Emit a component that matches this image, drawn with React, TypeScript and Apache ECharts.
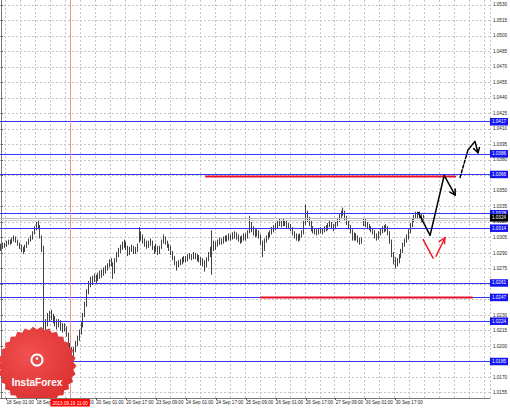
import React, { useEffect, useRef } from "react";
import * as echarts from "echarts";

// ---- OHLC (USD/CAD, H1), one value per hourly bar from 17 Sep 2013 22:00 ----
const opens = [
1.0294,1.0296,1.0298,1.0297,1.0300,1.0301,1.0300,1.0303,1.0304,1.0302,
1.0299,1.0297,1.0294,1.0293,1.0296,1.0299,1.0302,1.0304,1.0309,1.0313,
1.0317,1.0316,1.0306,1.0294,1.0212,1.0222,1.0227,1.0231,1.0228,1.0226,
1.0224,1.0220,1.0223,1.0219,1.0217,1.0218,1.0212,1.0202,1.0195,1.0193,
1.0196,1.0202,1.0207,1.0213,1.0220,1.0230,1.0240,1.0252,1.0260,1.0262,
1.0265,1.0266,1.0264,1.0268,1.0269,1.0271,1.0272,1.0275,1.0277,1.0281,
1.0280,1.0272,1.0283,1.0288,1.0292,1.0295,1.0298,1.0300,1.0296,1.0290,
1.0293,1.0295,1.0292,1.0293,1.0302,1.0309,1.0306,1.0302,1.0300,1.0297,
1.0299,1.0301,1.0296,1.0293,1.0296,1.0291,1.0295,1.0301,1.0304,1.0301,
1.0298,1.0296,1.0291,1.0286,1.0281,1.0278,1.0280,1.0282,1.0283,1.0285,
1.0284,1.0286,1.0287,1.0286,1.0288,1.0287,1.0285,1.0284,1.0282,1.0281,
1.0278,1.0283,1.0288,1.0291,1.0301,1.0296,1.0298,1.0300,1.0302,1.0301,
1.0303,1.0305,1.0304,1.0306,1.0305,1.0307,1.0308,1.0306,1.0304,1.0302,
1.0304,1.0306,1.0305,1.0310,1.0317,1.0314,1.0310,1.0309,1.0310,1.0307,
1.0301,1.0294,1.0302,1.0305,1.0307,1.0310,1.0312,1.0314,1.0316,1.0318,
1.0320,1.0318,1.0320,1.0319,1.0317,1.0316,1.0314,1.0310,1.0307,1.0306,
1.0305,1.0306,1.0309,1.0319,1.0329,1.0323,1.0320,1.0314,1.0312,1.0311,
1.0310,1.0311,1.0312,1.0311,1.0313,1.0314,1.0316,1.0318,1.0316,1.0314,
1.0317,1.0322,1.0326,1.0329,1.0331,1.0325,1.0320,1.0316,1.0313,1.0305,
1.0307,1.0306,1.0303,1.0301,1.0318,1.0321,1.0318,1.0316,1.0315,1.0313,
1.0311,1.0307,1.0305,1.0308,1.0311,1.0313,1.0314,1.0315,1.0310,1.0302,
1.0290,1.0283,1.0280,1.0282,1.0287,1.0292,1.0298,1.0301,1.0305,1.0311,
1.0317,1.0322,1.0325,1.0328,1.0326,1.0327,1.0323];

const closes = [
1.0296,1.0298,1.0297,1.0300,1.0301,1.0300,1.0303,1.0304,1.0302,1.0299,
1.0297,1.0294,1.0293,1.0296,1.0299,1.0302,1.0304,1.0309,1.0313,1.0317,
1.0316,1.0306,1.0294,1.0212,1.0222,1.0227,1.0231,1.0228,1.0226,1.0224,
1.0220,1.0223,1.0219,1.0217,1.0218,1.0212,1.0202,1.0195,1.0193,1.0196,
1.0202,1.0207,1.0213,1.0220,1.0230,1.0240,1.0252,1.0260,1.0262,1.0265,
1.0266,1.0264,1.0268,1.0269,1.0271,1.0272,1.0275,1.0277,1.0281,1.0280,
1.0272,1.0283,1.0288,1.0292,1.0295,1.0298,1.0300,1.0296,1.0290,1.0293,
1.0295,1.0292,1.0293,1.0296,1.0309,1.0306,1.0302,1.0300,1.0297,1.0299,
1.0301,1.0296,1.0293,1.0296,1.0291,1.0295,1.0301,1.0304,1.0301,1.0298,
1.0296,1.0291,1.0286,1.0281,1.0278,1.0280,1.0282,1.0283,1.0285,1.0284,
1.0286,1.0287,1.0286,1.0288,1.0287,1.0285,1.0284,1.0282,1.0281,1.0278,
1.0283,1.0288,1.0291,1.0301,1.0296,1.0298,1.0300,1.0302,1.0301,1.0303,
1.0305,1.0304,1.0306,1.0305,1.0307,1.0308,1.0306,1.0304,1.0302,1.0304,
1.0306,1.0305,1.0310,1.0317,1.0314,1.0310,1.0309,1.0310,1.0307,1.0301,
1.0294,1.0302,1.0305,1.0307,1.0310,1.0312,1.0314,1.0316,1.0318,1.0320,
1.0318,1.0320,1.0319,1.0317,1.0316,1.0314,1.0310,1.0307,1.0306,1.0305,
1.0306,1.0309,1.0319,1.0329,1.0323,1.0320,1.0314,1.0312,1.0311,1.0310,
1.0311,1.0312,1.0311,1.0313,1.0314,1.0316,1.0318,1.0316,1.0314,1.0317,
1.0322,1.0326,1.0329,1.0331,1.0325,1.0320,1.0316,1.0313,1.0305,1.0307,
1.0306,1.0303,1.0301,1.0302,1.0321,1.0318,1.0316,1.0315,1.0313,1.0311,
1.0307,1.0305,1.0308,1.0311,1.0313,1.0314,1.0315,1.0310,1.0302,1.0290,
1.0283,1.0280,1.0282,1.0287,1.0292,1.0298,1.0301,1.0305,1.0311,1.0317,
1.0322,1.0325,1.0328,1.0326,1.0327,1.0323,1.0324];

const highs = [
1.0299,1.0300,1.0300,1.0302,1.0303,1.0303,1.0305,1.0307,1.0306,1.0303,
1.0300,1.0298,1.0296,1.0298,1.0301,1.0304,1.0307,1.0311,1.0316,1.0320,
1.0322,1.0317,1.0307,1.0297,1.0226,1.0232,1.0234,1.0235,1.0231,1.0229,
1.0226,1.0226,1.0225,1.0222,1.0222,1.0219,1.0213,1.0203,1.0199,1.0199,
1.0205,1.0210,1.0216,1.0223,1.0232,1.0243,1.0255,1.0263,1.0267,1.0268,
1.0270,1.0269,1.0271,1.0273,1.0274,1.0276,1.0278,1.0280,1.0284,1.0285,
1.0281,1.0285,1.0291,1.0295,1.0298,1.0301,1.0303,1.0301,1.0297,1.0296,
1.0298,1.0297,1.0296,1.0299,1.0315,1.0311,1.0308,1.0304,1.0302,1.0302,
1.0304,1.0302,1.0297,1.0299,1.0297,1.0297,1.0303,1.0308,1.0306,1.0302,
1.0299,1.0297,1.0292,1.0287,1.0282,1.0283,1.0284,1.0286,1.0287,1.0287,
1.0289,1.0290,1.0289,1.0291,1.0290,1.0289,1.0288,1.0286,1.0285,1.0283,
1.0286,1.0291,1.0296,1.0312,1.0302,1.0301,1.0303,1.0305,1.0304,1.0306,
1.0307,1.0307,1.0309,1.0308,1.0310,1.0311,1.0310,1.0308,1.0306,1.0307,
1.0309,1.0309,1.0312,1.0326,1.0320,1.0316,1.0313,1.0313,1.0312,1.0308,
1.0302,1.0304,1.0307,1.0310,1.0312,1.0315,1.0317,1.0319,1.0321,1.0323,
1.0322,1.0323,1.0322,1.0321,1.0319,1.0318,1.0315,1.0311,1.0309,1.0308,
1.0309,1.0312,1.0322,1.0337,1.0331,1.0325,1.0321,1.0316,1.0314,1.0313,
1.0314,1.0315,1.0314,1.0316,1.0317,1.0319,1.0321,1.0320,1.0318,1.0320,
1.0324,1.0328,1.0331,1.0334,1.0331,1.0326,1.0321,1.0317,1.0313,1.0310,
1.0309,1.0307,1.0305,1.0305,1.0324,1.0323,1.0320,1.0318,1.0316,1.0314,
1.0312,1.0309,1.0311,1.0314,1.0316,1.0317,1.0318,1.0316,1.0311,1.0303,
1.0291,1.0286,1.0285,1.0289,1.0294,1.0300,1.0304,1.0308,1.0313,1.0319,
1.0324,1.0327,1.0330,1.0330,1.0330,1.0328,1.0327];

const lows = [
1.0292,1.0294,1.0295,1.0296,1.0298,1.0298,1.0299,1.0301,1.0300,1.0297,
1.0294,1.0291,1.0289,1.0291,1.0295,1.0298,1.0301,1.0303,1.0308,1.0312,
1.0313,1.0304,1.0291,1.0201,1.0205,1.0219,1.0224,1.0225,1.0222,1.0219,
1.0216,1.0218,1.0215,1.0213,1.0214,1.0209,1.0199,1.0191,1.0184,1.0188,
1.0194,1.0200,1.0205,1.0211,1.0218,1.0228,1.0238,1.0250,1.0257,1.0259,
1.0262,1.0261,1.0263,1.0265,1.0266,1.0268,1.0270,1.0273,1.0276,1.0277,
1.0265,1.0270,1.0281,1.0286,1.0290,1.0293,1.0295,1.0293,1.0287,1.0288,
1.0291,1.0289,1.0289,1.0291,1.0300,1.0302,1.0299,1.0296,1.0294,1.0295,
1.0297,1.0293,1.0289,1.0291,1.0288,1.0289,1.0294,1.0299,1.0298,1.0295,
1.0292,1.0288,1.0283,1.0278,1.0273,1.0276,1.0278,1.0279,1.0281,1.0281,
1.0282,1.0284,1.0283,1.0284,1.0284,1.0282,1.0281,1.0278,1.0277,1.0272,
1.0276,1.0282,1.0286,1.0269,1.0292,1.0293,1.0296,1.0298,1.0298,1.0299,
1.0301,1.0301,1.0302,1.0302,1.0303,1.0304,1.0303,1.0301,1.0299,1.0300,
1.0302,1.0302,1.0304,1.0309,1.0310,1.0307,1.0305,1.0306,1.0304,1.0298,
1.0286,1.0292,1.0300,1.0303,1.0305,1.0308,1.0310,1.0312,1.0314,1.0316,
1.0315,1.0316,1.0316,1.0314,1.0313,1.0311,1.0307,1.0304,1.0302,1.0301,
1.0302,1.0305,1.0308,1.0317,1.0320,1.0316,1.0311,1.0309,1.0308,1.0307,
1.0308,1.0309,1.0308,1.0310,1.0311,1.0312,1.0315,1.0313,1.0311,1.0313,
1.0316,1.0320,1.0324,1.0326,1.0322,1.0317,1.0313,1.0309,1.0302,1.0302,
1.0302,1.0300,1.0298,1.0299,1.0316,1.0315,1.0313,1.0312,1.0310,1.0308,
1.0304,1.0302,1.0303,1.0307,1.0309,1.0310,1.0311,1.0307,1.0299,1.0286,
1.0279,1.0275,1.0277,1.0280,1.0285,1.0290,1.0296,1.0300,1.0303,1.0309,
1.0315,1.0320,1.0323,1.0323,1.0323,1.0320,1.0321];

// ---- y-axis tick labels ----
const yTickLabels = [
1.0155,1.0170,1.0185,1.0200,1.0215,1.0230,1.0245,1.0260,1.0275,1.0290,
1.0305,1.0320,1.0335,1.0350,1.0365,1.0380,1.0395,1.0410,1.0425,1.0440,
1.0455,1.0470,1.0485,1.0500,1.0515,1.0530];

// ---- horizontal levels ----
const blueLevels = [1.0417, 1.0386, 1.0366, 1.0328, 1.0314, 1.0261, 1.0247, 1.0224, 1.0185];
const bidLevels = [1.0324, 1.0322];
const crosshairLabel = "2013.09.19 11:00";
const crosshairIndex = 37;

// ---- annotation drawings: [bar position, price] ----
const redLine1 = [[109.7, 1.0364], [242.9, 1.0364]];
const redLine2 = [[139.0, 1.0247], [251.9, 1.0247]];
const blackPath1 = [[223.2, 1.0329], [229.5, 1.0307], [237.0, 1.0365], [242.9, 1.0346]];
const blackHead1 = [[240.1, 1.0349], [242.9, 1.0346], [242.9, 1.0352]];
const blackDashed = [[245.5, 1.0363], [249.8, 1.0390]];
const blackPath2 = [[249.8, 1.0390], [253.5, 1.0398], [255.1, 1.0387]];
const blackHead2 = [[252.8, 1.0391], [255.1, 1.0387], [255.9, 1.0392]];
const redStroke1 = [[225.8, 1.0303], [231.1, 1.0285]];
const redStroke2 = [[232.7, 1.0287], [237.5, 1.0305]];
const redHead = [[234.3, 1.0301], [237.5, 1.0305], [237.2, 1.0299]];

// ---- hourly categories (trading hours only) ----
const N_CATS = 262;
const MONTHS = ["Jan","Feb","Mar","Apr","May","Jun","Jul","Aug","Sep","Oct","Nov","Dec"];
const categories: string[] = [];
for (let t = Date.UTC(2013, 8, 17, 22); categories.length < N_CATS; t += 3600000) {
  const d = new Date(t);
  const wd = d.getUTCDay();
  if (wd === 0 || wd === 6) continue;
  const hh = String(d.getUTCHours()).padStart(2, "0");
  categories.push(`${d.getUTCDate()} ${MONTHS[d.getUTCMonth()]} ${hh}:00`);
}
const LAST_BAR = closes.length - 1;
const showLabel = (i: number) => i >= 3 && (i - 3) % 16 === 0 && i <= LAST_BAR;
const showGrid = (i: number) => i >= 3 && (i - 3) % 8 === 0;

const FONT = "Liberation Sans, Arial, sans-serif";
const FS = 4.6;

function gearPoints() {
  const pts: number[][] = [];
  const cx = 37, cy = 366, n = 30;
  for (let k = 0; k < n * 2; k++) {
    const a = (k / (n * 2)) * Math.PI * 2;
    const r = k % 2 === 0 ? 39.5 : 36.5;
    pts.push([cx + r * Math.cos(a), Math.min(398, cy + r * Math.sin(a))]);
  }
  return pts;
}

const seg = (data: number[][], color: string, width: number, type: any = "solid") => ({
  type: "line",
  xAxisIndex: 1,
  yAxisIndex: 0,
  data,
  symbol: "none",
  silent: true,
  z: 5,
  lineStyle: { color, width, type, cap: "round", join: "round" },
});

const levelLabel = (bg: string) => ({
  show: true,
  position: "end",
  distance: 0,
  color: "#ffffff",
  backgroundColor: bg,
  fontSize: FS,
  fontFamily: FONT,
  lineHeight: 5,
  padding: [1.5, 2, 1, 2],
  formatter: (p: any) => Number(p.value).toFixed(4),
});

export default function App() {
  const ref = useRef<HTMLDivElement>(null);
  useEffect(() => {
    const chart = echarts.init(ref.current!, undefined, { renderer: "svg" });
    const candleData = closes.map((c, i) => [opens[i], c, lows[i], highs[i]]);
    const markData: any[] = [
      ...blueLevels.map((v) => ({
        yAxis: v,
        lineStyle: { color: "#3434ff", width: 1, type: "solid" },
        label: levelLabel("#1414f0"),
      })),
      {
        yAxis: bidLevels[1],
        lineStyle: { color: "#cfcfcf", width: 1, type: "solid" },
        label: { show: false },
      },
      {
        yAxis: bidLevels[0],
        lineStyle: { color: "#bdbdbd", width: 1, type: "solid" },
        label: levelLabel("#000000"),
      },
      {
        xAxis: categories[crosshairIndex],
        lineStyle: { color: "#f09090", width: 1, type: "solid" },
        label: {
          show: true,
          position: "start",
          distance: 1,
          formatter: crosshairLabel,
          color: "#ffffff",
          backgroundColor: "#ff0000",
          fontSize: FS,
          fontFamily: FONT,
          lineHeight: 5,
          padding: [1.5, 2, 1, 2],
        },
      },
    ];
    const option: any = {
      animation: false,
      backgroundColor: "#ffffff",
      grid: { left: 0, right: 18, top: 0, bottom: 10 },
      xAxis: [
        {
          type: "category",
          data: categories,
          boundaryGap: true,
          axisLine: { show: true, lineStyle: { color: "#7a7a7a", width: 1 } },
          axisTick: {
            show: true,
            alignWithLabel: true,
            length: 2,
            interval: (i: number) => showLabel(i),
            lineStyle: { color: "#555" },
          },
          axisLabel: {
            interval: (i: number) => showLabel(i),
            align: "left",
            margin: 2,
            fontSize: FS,
            fontFamily: FONT,
            color: "#222",
          },
          splitLine: {
            show: true,
            interval: (i: number) => showGrid(i),
            lineStyle: { color: "#c4c4c4", width: 1, type: [2, 2] },
          },
        },
        { type: "value", min: -0.5, max: N_CATS - 0.5, show: false },
      ],
      yAxis: {
        type: "value",
        position: "right",
        min: 1.01497,
        max: 1.05348,
        axisLine: { show: true, lineStyle: { color: "#7a7a7a", width: 1 } },
        axisTick: {
          show: true,
          length: 2,
          customValues: yTickLabels,
          lineStyle: { color: "#555" },
        },
        axisLabel: {
          customValues: yTickLabels,
          formatter: (v: number) => v.toFixed(4),
          margin: 3,
          fontSize: FS,
          fontFamily: FONT,
          color: "#222",
        },
        splitLine: {
          show: true,
          lineStyle: { color: "#c4c4c4", width: 1, type: [2, 2] },
        },
      },
      series: [
        {
          type: "candlestick",
          xAxisIndex: 0,
          yAxisIndex: 0,
          data: candleData,
          barWidth: 1.2,
          silent: true,
          itemStyle: {
            color: "#ffffff",
            color0: "#000000",
            borderColor: "#111111",
            borderColor0: "#111111",
            borderWidth: 0.8,
          },
          markLine: {
            symbol: "none",
            silent: true,
            animation: false,
            precision: 4,
            data: markData,
          },
        },
        seg(redLine1, "#e8102a", 2),
        seg(redLine2, "#e8102a", 2),
        seg(blackPath1, "#000000", 1.5),
        seg(blackHead1, "#000000", 1.5),
        seg(blackDashed, "#000000", 1.5, [3, 2]),
        seg(blackPath2, "#000000", 1.5),
        seg(blackHead2, "#000000", 1.5),
        seg(redStroke1, "#ee1c2c", 1.5),
        seg(redStroke2, "#ee1c2c", 1.5),
        seg(redHead, "#ee1c2c", 1.5),
      ],
      graphic: [
        {
          type: "polygon",
          z: 100,
          shape: { points: gearPoints() },
          style: {
            fill: {
              type: "radial",
              x: 0.4,
              y: 0.4,
              r: 0.75,
              colorStops: [
                { offset: 0, color: "#f25050" },
                { offset: 1, color: "#d82e2e" },
              ],
            },
          },
        },
        { type: "circle", z: 101, shape: { cx: 37, cy: 360, r: 6.5 }, style: { fill: "#ffffff" } },
        { type: "circle", z: 102, shape: { cx: 37, cy: 360, r: 4.5 }, style: { fill: "#e84a4a" } },
        { type: "circle", z: 103, shape: { cx: 37, cy: 358.5, r: 1.3 }, style: { fill: "#ffffff" } },
        {
          type: "text",
          z: 104,
          x: 37,
          y: 382,
          style: {
            text: "InstaForex",
            fill: "#ffffff",
            fontSize: 10,
            fontWeight: "bold",
            fontFamily: FONT,
            align: "center",
            verticalAlign: "middle",
          },
        },
      ],
    };
    chart.setOption(option);
    return () => chart.dispose();
  }, []);
  return (
    <div
      ref={ref}
      style={{ position: "fixed", left: 0, top: 0, width: 510, height: 408, background: "#fff" }}
    />
  );
}
